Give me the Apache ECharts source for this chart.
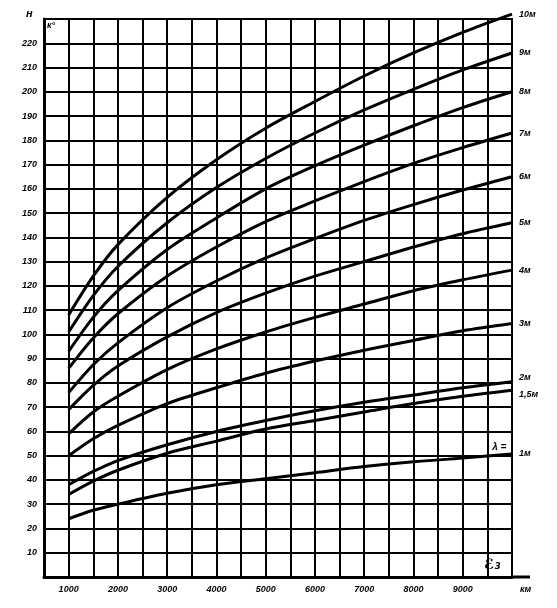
<!DOCTYPE html>
<html><head><meta charset="utf-8">
<script src="https://cdn.jsdelivr.net/npm/echarts@6/dist/echarts.min.js"></script>
<style>html,body{margin:0;padding:0;background:#fff}#c{width:557px;height:608px}</style>
</head><body><div id="c"></div>
<script>
// distances, km
const distances = [1000, 1500, 2000, 3000, 4000, 5000, 6000, 7000, 8000, 9000, 10000];
// curve names (wavelength λ)
const curveNames = ['10м', '9м', '8м', '7м', '6м', '5м', '4м', '3м', '2м', '1,5м', '1м'];
// values, one array per curve
const h10  = [108, 124, 137, 156.5, 172, 185, 196, 206.5, 216, 224.5, 232];
const h9   = [101, 116, 128, 146, 160.5, 172.5, 183, 192.5, 201, 209, 216];
const h8   = [93, 107, 118, 135, 148, 160, 169.5, 178, 186, 193.5, 200];
const h7   = [86, 98.5, 108.5, 124, 136, 146.5, 155, 163, 170.5, 177, 183];
const h6   = [76, 87.5, 96.5, 111, 122, 131.5, 139.5, 147, 153.5, 159.5, 165];
const h5   = [69, 79, 87, 99, 109, 117, 124, 130, 136, 141.5, 146];
const h4   = [59, 68, 74.5, 85.5, 94, 101, 107, 112.5, 118, 122.5, 126.5];
const h3   = [50, 57, 62.5, 71.5, 78, 84, 89, 93.5, 97.5, 101.5, 104.5];
const h2   = [38, 43.5, 48, 54.5, 60, 64.5, 68.5, 72, 75, 78, 80.5];
const h15  = [34, 39.5, 44, 51, 56, 61, 64.5, 68, 71.5, 74.5, 77];
const h1   = [24, 27.5, 30, 34.5, 38, 40.5, 43, 45.5, 47.5, 49, 50.7];
const curves = [h10, h9, h8, h7, h6, h5, h4, h3, h2, h15, h1];
const labelOffsets = [[0,0],[0,0],[0,0],[0,0],[0,0],[0,0],[0,0],[0,0],[0,-4],[0,4],[0,0]];

const chart = echarts.init(document.getElementById('c'));
const FONT = '"Liberation Sans", Arial, sans-serif';
const series = curves.map((arr, i) => ({
  name: curveNames[i],
  type: 'line',
  smooth: 0.3,
  clip: false,
  symbol: 'none',
  data: distances.map((d, j) => [d, arr[j]]),
  lineStyle: {color: '#000', width: 3},
  endLabel: {
    show: true,
    formatter: curveNames[i],
    color: '#000', fontFamily: FONT, fontStyle: 'italic', fontWeight: 'bold', fontSize: 9,
    distance: 7, offset: labelOffsets[i]
  },
  z: 5
}));

chart.setOption({
  animation: false,
  backgroundColor: '#fff',
  grid: {left: 44, top: 19, width: 468, height: 558, show: true, borderColor: '#000', borderWidth: 2},
  xAxis: {
    type: 'value', min: 500, max: 10000, interval: 500,
    axisLine: {show: true, lineStyle: {color: '#000', width: 3}},
    axisTick: {show: false},
    splitLine: {show: true, lineStyle: {color: '#000', width: 2}},
    axisLabel: {
      color: '#000', fontFamily: FONT, fontStyle: 'italic', fontWeight: 'bold', fontSize: 9, margin: 8,
      formatter: v => (v % 1000 === 0 && v < 10000) ? String(v) : ''
    }
  },
  yAxis: {
    type: 'value', min: 0, max: 230, interval: 10,
    axisLine: {show: true, lineStyle: {color: '#000', width: 3}},
    axisTick: {show: false},
    splitLine: {show: true, lineStyle: {color: '#000', width: 2}},
    axisLabel: {
      color: '#000', fontFamily: FONT, fontStyle: 'italic', fontWeight: 'bold', fontSize: 9, margin: 7,
      formatter: v => (v > 0 && v < 230) ? String(v) : ''
    }
  },
  series: series
});

// annotations (text) placed relative to the axes
const p0 = chart.convertToPixel({gridIndex: 0}, [10000, 0]);
const pL = chart.convertToPixel({gridIndex: 0}, [9700, 52.5]);
const txt = (x, y, s, size, fam) => ({type: 'text', x: x, y: y, z: 10, style: {text: s, fill: '#000', font: 'italic bold ' + size + 'px ' + (fam || FONT)}});
chart.setOption({
  graphic: [
    {type: 'line', shape: {x1: p0[0], y1: p0[1], x2: p0[0] + 18, y2: p0[1]}, style: {stroke: '#000', lineWidth: 3}},
    txt(26, 8, 'н', 11),
    txt(47, 21, 'к°', 9),
    txt(p0[0] - 28, p0[1] - 19, 'ℰ₃', 14, '"DejaVu Sans"'),
    txt(p0[0] + 8, p0[1] + 8, 'км', 9),
    txt(pL[0] - 5, pL[1] - 7, 'λ =', 10)
  ]
});
</script></body></html>
